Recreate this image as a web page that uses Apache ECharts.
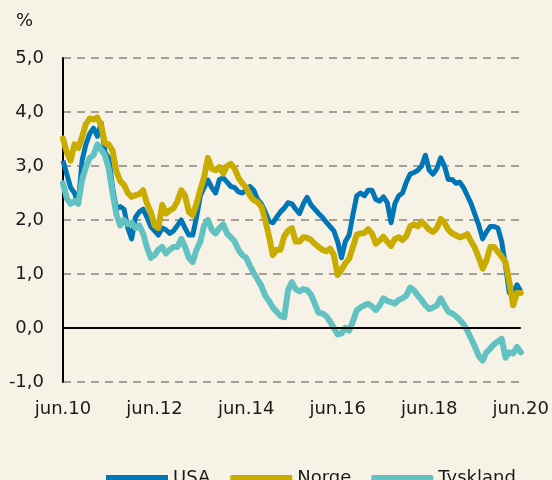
<!DOCTYPE html>
<html>
<head>
<meta charset="utf-8">
<script src="https://cdn.jsdelivr.net/npm/echarts@6/dist/echarts.min.js"></script>
<style>
  html, body { margin: 0; padding: 0; background: #f7f2e6; }
  #main { width: 552px; height: 480px; }
</style>
</head>
<body>
<div id="main"></div>
<script>
var monthNames = ['jan', 'feb', 'mar', 'apr', 'mai', 'jun', 'jul', 'aug', 'sep', 'okt', 'nov', 'des'];
var categories = [];
for (var i = 0; i <= 120; i++) {
  var m = (5 + i) % 12;
  var y = 10 + Math.floor((5 + i) / 12);
  categories.push(monthNames[m] + '.' + y);
}

var usa = [
  3.1, 2.85, 2.6, 2.5, 2.3, 3.1, 3.4, 3.6, 3.7, 3.55,
  3.8, 3.25, 3.15, 2.6, 2.2, 2.25, 2.2, 1.85, 1.65, 2.05,
  2.15, 2.2, 2.05, 1.88, 1.8, 1.72, 1.85, 1.82, 1.75, 1.8,
  1.9, 2.0, 1.85, 1.72, 1.72, 2.05, 2.45, 2.6, 2.74, 2.6,
  2.5, 2.75, 2.78, 2.7, 2.62, 2.6, 2.52, 2.5, 2.55, 2.62,
  2.55, 2.38, 2.3, 2.15, 1.98, 1.95, 2.05, 2.15, 2.22, 2.32,
  2.3, 2.2, 2.12, 2.3, 2.42, 2.28, 2.2, 2.12, 2.05, 1.96,
  1.88, 1.8, 1.6, 1.3, 1.6, 1.72, 2.1, 2.45, 2.5, 2.45,
  2.55, 2.55, 2.38, 2.35, 2.43, 2.32, 1.95, 2.3, 2.45, 2.5,
  2.7, 2.85, 2.88, 2.92, 3.0, 3.2, 2.92, 2.85, 2.95, 3.15,
  3.0, 2.75, 2.75, 2.68, 2.7, 2.6, 2.45, 2.3, 2.1, 1.9,
  1.65, 1.78, 1.88, 1.88, 1.85, 1.6, 1.15, 0.65, 0.65, 0.8,
  0.68
];

var norge = [
  3.51, 3.25, 3.1, 3.4, 3.33, 3.54, 3.78, 3.88, 3.86, 3.9,
  3.75, 3.42, 3.4, 3.28, 2.9, 2.72, 2.65, 2.5, 2.43, 2.46,
  2.48, 2.55, 2.31, 2.15, 1.9, 1.85, 2.28, 2.12, 2.18, 2.22,
  2.35, 2.55, 2.45, 2.15, 2.09, 2.3, 2.56, 2.8, 3.15, 2.95,
  2.92, 2.98, 2.86, 3.0, 3.04, 2.95, 2.78, 2.68, 2.6, 2.45,
  2.37, 2.33, 2.25, 2.0, 1.7, 1.35, 1.45, 1.45, 1.7, 1.8,
  1.85, 1.6, 1.6, 1.68, 1.67, 1.63, 1.56, 1.5, 1.45, 1.42,
  1.47, 1.35, 0.98, 1.08, 1.2, 1.28, 1.5, 1.73, 1.75, 1.76,
  1.83, 1.75, 1.56, 1.62, 1.69, 1.6, 1.52, 1.65, 1.68, 1.63,
  1.7, 1.88, 1.92, 1.88, 1.97, 1.9, 1.82, 1.78, 1.85, 2.02,
  1.95, 1.82, 1.75, 1.72, 1.68, 1.7, 1.74, 1.6, 1.48, 1.3,
  1.1, 1.25, 1.5, 1.5, 1.41, 1.32, 1.22, 0.85, 0.42, 0.65,
  0.65
];

var tyskland = [
  2.68, 2.4, 2.3, 2.35, 2.3, 2.75, 2.98, 3.15, 3.2, 3.4,
  3.3, 3.2, 2.95, 2.5, 2.1, 1.9, 2.0, 1.92, 1.95, 1.85,
  1.9, 1.75, 1.5, 1.3, 1.35, 1.45, 1.5, 1.38, 1.45, 1.5,
  1.5, 1.65, 1.5, 1.3, 1.22, 1.45, 1.6, 1.9, 2.0, 1.82,
  1.75, 1.85, 1.92, 1.75, 1.68, 1.6, 1.45, 1.35, 1.3, 1.15,
  1.02, 0.9, 0.78, 0.6, 0.5, 0.38, 0.3, 0.22, 0.2, 0.7,
  0.85, 0.72, 0.68, 0.72, 0.7, 0.62, 0.45, 0.28, 0.27, 0.22,
  0.12, 0.0, -0.12, -0.1, 0.0, -0.05, 0.12, 0.33, 0.38, 0.42,
  0.45, 0.4, 0.33, 0.42, 0.55, 0.5, 0.48, 0.45, 0.52, 0.55,
  0.6, 0.75, 0.7, 0.6, 0.52, 0.42, 0.35, 0.38, 0.42, 0.55,
  0.42, 0.3, 0.27, 0.22, 0.15, 0.07, -0.05, -0.2, -0.35, -0.52,
  -0.6, -0.45, -0.38, -0.3, -0.25, -0.2, -0.55, -0.45, -0.47, -0.35,
  -0.45
];

var chart = echarts.init(document.getElementById('main'));
var font = 'DejaVu Sans';

var option = {
  backgroundColor: '#f7f2e6',
  animation: false,
  graphic: [{
    type: 'text',
    left: 16,
    top: 12,
    style: { text: '%', font: '18px "DejaVu Sans"', fill: '#1a1a1a' }
  }],
  grid: { left: 63, right: 31, top: 58, bottom: 98 },
  legend: {
    left: 101,
    top: 462,
    itemWidth: 62,
    itemHeight: 6,
    itemGap: 20,
    textStyle: { fontFamily: font, fontSize: 18, color: '#1a1a1a', lineHeight: 22 },
    data: [
      { name: 'USA', icon: 'rect' },
      { name: 'Norge', icon: 'roundRect' },
      { name: 'Tyskland', icon: 'roundRect' }
    ]
  },
  xAxis: {
    type: 'category',
    data: categories,
    boundaryGap: false,
    axisLine: { show: false },
    axisTick: { show: false },
    axisLabel: {
      interval: 23,
      margin: 18,
      fontFamily: font,
      fontSize: 18,
      color: '#1a1a1a',
      formatter: function (v) { return v; }
    },
    splitLine: { show: false }
  },
  yAxis: {
    type: 'value',
    min: -1,
    max: 5,
    interval: 1,
    axisLine: { show: true, lineStyle: { color: '#000', width: 2 } },
    axisTick: { show: false },
    axisLabel: {
      margin: 19,
      fontFamily: font,
      fontSize: 18,
      color: '#1a1a1a',
      formatter: function (v) { return v.toFixed(1).replace('.', ','); }
    },
    splitLine: { lineStyle: { color: '#a69e97', width: 2, type: [8, 6] } }
  },
  series: [
    {
      name: 'USA',
      type: 'line',
      data: usa,
      showSymbol: false,
      color: '#0076b6',
      lineStyle: { width: 5, join: 'round' },
      markLine: {
        silent: true,
        symbol: 'none',
        label: { show: false },
        lineStyle: { color: '#000', width: 2, type: 'solid' },
        data: [{ yAxis: 0 }]
      }
    },
    {
      name: 'Norge',
      type: 'line',
      data: norge,
      showSymbol: false,
      color: '#c8ac00',
      lineStyle: { width: 6, join: 'round', cap: 'round' }
    },
    {
      name: 'Tyskland',
      type: 'line',
      data: tyskland,
      showSymbol: false,
      color: '#62c2c2',
      lineStyle: { width: 6, join: 'round', cap: 'round' }
    }
  ]
};

chart.setOption(option);
</script>
</body>
</html>
